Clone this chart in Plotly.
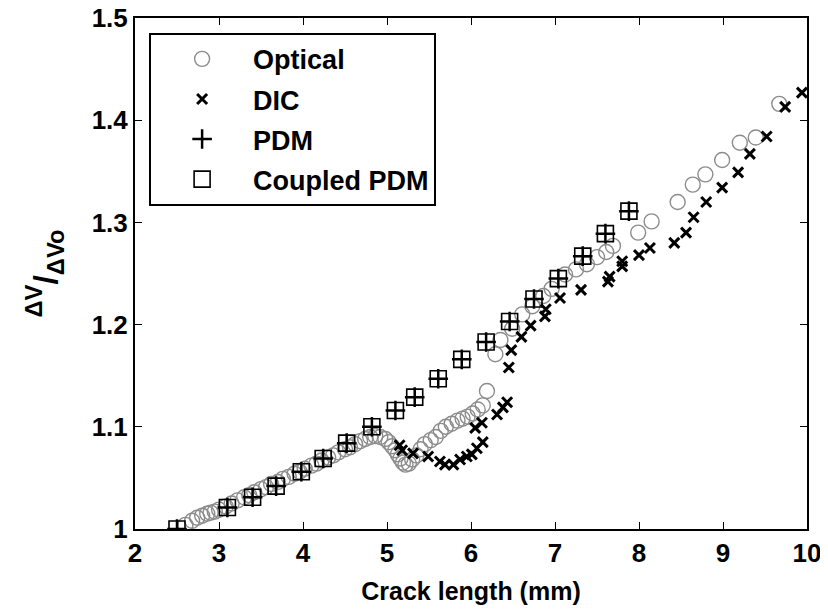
import plotly.graph_objects as go

# Optical
opt_x = [2.6, 2.68, 2.74, 2.8, 2.86, 2.9, 2.95, 3.0, 3.08, 3.15, 3.22, 3.3, 3.36, 3.42, 3.5, 3.56, 3.62,
         3.7, 3.76, 3.83, 3.9, 3.96, 4.02, 4.1, 4.16, 4.22, 4.3, 4.36, 4.42, 4.5, 4.56, 4.62, 4.68, 4.74,
         4.8, 4.86, 4.92, 4.98, 5.02, 5.06, 5.1, 5.13, 5.16, 5.19, 5.22, 5.26, 5.3, 5.35, 5.4, 5.45, 5.52,
         5.58, 5.64, 5.7, 5.77, 5.84, 5.9, 5.96, 6.02, 6.08, 6.14, 6.19,
         6.29, 6.35, 6.49, 6.61, 6.73, 6.86, 6.96, 7.12, 7.25, 7.38, 7.5, 7.61, 7.69, 7.99, 8.15,
         8.46, 8.64, 8.79, 8.99, 9.2, 9.39, 9.67]
opt_y = [1.004, 1.008, 1.011, 1.013, 1.015, 1.016, 1.017, 1.019, 1.022, 1.025, 1.028, 1.031, 1.033, 1.036,
         1.039, 1.041, 1.044, 1.046, 1.049, 1.051, 1.054, 1.056, 1.059, 1.062, 1.064, 1.067, 1.07, 1.072,
         1.075, 1.078, 1.08, 1.083, 1.086, 1.088, 1.09, 1.091, 1.09, 1.088, 1.085, 1.081, 1.077, 1.073,
         1.069, 1.065, 1.063, 1.064, 1.068, 1.072, 1.078, 1.083, 1.087, 1.09, 1.096, 1.1, 1.103, 1.106,
         1.108, 1.11, 1.113, 1.117, 1.121, 1.135,
         1.171, 1.185, 1.196, 1.21, 1.218, 1.228, 1.235, 1.249, 1.254, 1.259, 1.266, 1.271, 1.277, 1.29,
         1.301, 1.32, 1.337, 1.347, 1.361, 1.378, 1.383, 1.416]

# DIC
dic_x = [5.15, 5.18, 5.31, 5.49, 5.63, 5.69, 5.79, 5.87, 5.95, 6.01, 6.07, 6.14, 6.05, 6.13, 6.31, 6.38,
         6.43, 6.45, 6.48, 6.6, 6.71, 6.88, 6.89, 7.06, 7.31, 7.63, 7.65, 7.8, 7.8, 8.0, 8.13, 8.42,
         8.56, 8.65, 8.8, 8.99, 9.18, 9.32, 9.52, 9.74, 9.94]
dic_y = [1.082, 1.077, 1.074, 1.071, 1.066, 1.063, 1.063, 1.068, 1.071, 1.073, 1.079, 1.085, 1.099, 1.104,
         1.112, 1.119, 1.124, 1.158, 1.175, 1.188, 1.199, 1.208, 1.215, 1.226, 1.234, 1.242, 1.247,
         1.257, 1.262, 1.268, 1.275, 1.28, 1.29, 1.305, 1.32, 1.334, 1.349, 1.367, 1.384, 1.413, 1.427]

# PDM and Coupled PDM
pdm_x = [2.5, 3.1, 3.4, 3.68, 3.98, 4.24, 4.52, 4.82, 5.1, 5.33, 5.61, 5.89, 6.18, 6.46, 6.75, 7.04,
         7.33, 7.6, 7.88]
pdm_y = [1.0, 1.021, 1.031, 1.042, 1.056, 1.069, 1.084, 1.1, 1.116, 1.129, 1.147, 1.166, 1.183, 1.203,
         1.225, 1.245, 1.267, 1.289, 1.311]
cpdm_x = list(pdm_x)
cpdm_y = list(pdm_y)

x_ticks = [2, 3, 4, 5, 6, 7, 8, 9, 10]
y_ticks = [1, 1.1, 1.2, 1.3, 1.4, 1.5]
y_tick_text = ["1", "1.1", "1.2", "1.3", "1.4", "1.5"]

FONT = "Arial, 'Liberation Sans', sans-serif"

fig = go.Figure()
fig.add_trace(go.Scatter(x=opt_x, y=opt_y, mode="markers", name="<b>Optical</b>", legendgroup="a",
                         marker=dict(symbol="circle-open", size=15, color="#8c8c8c", line=dict(width=1.4))))
fig.add_trace(go.Scatter(x=dic_x, y=dic_y, mode="markers", name="<b>DIC</b>", legendgroup="b",
                         marker=dict(symbol="x-thin-open", size=10, color="black", line=dict(width=3))))
fig.add_trace(go.Scatter(x=pdm_x, y=pdm_y, mode="markers", name="<b>PDM</b>", legendgroup="c",
                         marker=dict(symbol="cross-thin-open", size=14, color="black", line=dict(width=2.5))))
fig.add_trace(go.Scatter(x=cpdm_x, y=cpdm_y, mode="markers", name="<b>Coupled PDM</b>", legendgroup="d",
                         marker=dict(symbol="square-open", size=16, color="black", line=dict(width=1.6))))

axis_common = dict(showline=True, linecolor="black", linewidth=2, mirror="ticks", ticks="inside",
                   ticklen=7, tickwidth=1, tickcolor="black", showgrid=False, zeroline=False,
                   automargin=False, ticklabeloverflow="allow",
                   tickfont=dict(family=FONT, size=26, color="black", weight="bold"))

fig.update_xaxes(range=[2, 10], tickvals=x_ticks, ticktext=[str(v) for v in x_ticks],
                 title=dict(text="Crack length (mm)", font=dict(family=FONT, size=25, color="black", weight="bold"),
                            standoff=15),
                 **axis_common)
fig.update_yaxes(range=[1, 1.5], tickvals=y_ticks, ticktext=y_tick_text,
                 title=dict(text="<sup>ΔV</sup>/<sub>ΔVo</sub>",
                            font=dict(family=FONT, size=34, color="black", weight="bold"), standoff=24),
                 **axis_common)

# page body adds an 8px margin, so the figure is sized/offset to compensate
fig.update_layout(
    width=820, height=604,
    margin=dict(l=127, r=21, t=10, b=83),
    plot_bgcolor="white", paper_bgcolor="white",
    font=dict(family=FONT, color="black"),
    legend=dict(x=0.021, y=0.971, xanchor="left", yanchor="top",
                bgcolor="white", bordercolor="black", borderwidth=2,
                font=dict(family=FONT, size=27, color="black"),
                tracegroupgap=2, itemwidth=92, traceorder="grouped"),
    showlegend=True,
)

fig.write_html("out.html")
